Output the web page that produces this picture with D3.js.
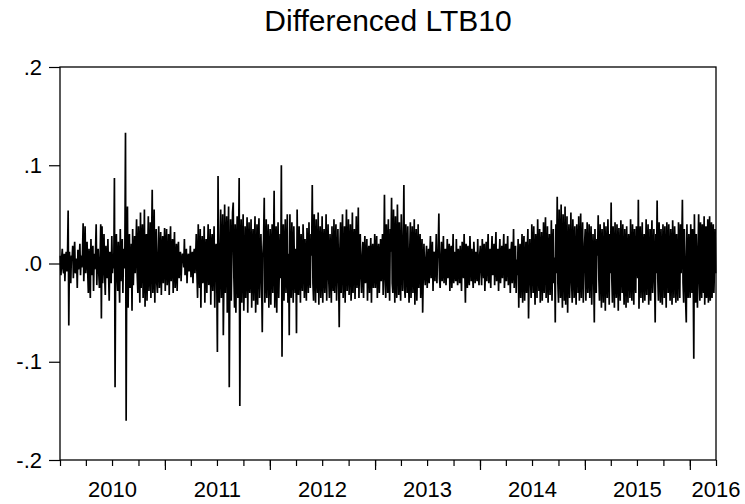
<!DOCTYPE html>
<html>
<head>
<meta charset="utf-8">
<script src="https://cdn.jsdelivr.net/npm/d3@7"></script>
<style>
  body { margin: 0; background: #fff; }
  text { font-family: "Liberation Sans", Arial, sans-serif; fill: #000; }
</style>
</head>
<body>
<div id="chart"></div>
<script>
// daily differences, in units of 0.001
var d2010 = [8,-12,5,15,-5,-10,10,-18,4,12,-8,6,
  54,-63,
  12,-5,-20,8,3,18,-15,6,22,-10,-3,5,-25,14,-6,2,20,-12,8,-4,10,
  41,-18,5,38,-10,4,
  22,-8,-30,15,-5,-35,25,-12,6,18,-28,10,-6,12,
  40,-22,8,
  15,-10,-25,6,40,-56,38,-20,5,30,-12,
  -32,18,-6,-15,25,-10,-38,12,4,-20,28,-10,8,-5,
  87,-126,10,
  30,-12,-28,22,-8,-40,35,-18,6,25,-30,15,-5,10,
  133,-160,20,
  58,-45,12,30,-25,-8,20,-48,35,-22,5,28,-10,15,
  45,-12,-30,38,5,-40,52,-25,10,40,-35,-10,55,-44,15,30,-38,8,48,-28,-5,42,-35,20,75,-30,-8,55,-40,12,35,-20,
  -30,10,38,-25,-5,32,-32,12,28,-20,6,36];
var d2011 = [-28,10,35,-22,-6,30,-32,12,38,-18,4,25,-30,8,32,-25,-5,20,-28,10,22,
  -15,5,12,-18,2,10,8,-4,25,-12,6,15,-20,3,10,-8,-2,18,-14,5,12,-20,8,15,-10,4,
  30,-10,-35,40,-5,-25,35,-45,12,28,-20,-6,38,-40,10,25,-30,5,40,-22,-8,35,-42,15,30,-28,6,38,-45,10,20,-12,
  -90,89,-20,
  -40,10,55,-35,8,50,-73,-10,60,-30,15,48,-50,12,58,-126,-5,45,-38,10,52,
  62,-15,-45,40,-50,10,48,-35,12,
  87,-145,15,
  45,-40,10,50,-48,-12,38,-35,8,47,-50,15,42,-30,-6,45,-45,12,35,-38,5,48,-50,-10,40,-42,18,46,-35,-5,30,-15,
  -70,10,25,67,-40,-8,45,-35,12,40,-45,5];
var d2012 = [35,-42,8,40,-30,10,
  74,-45,-10,38,-50,12,42,-35,-5,30,-15,
  100,-95,15,
  40,-38,5,45,-30,-8,50,-40,10,
  -73,50,-12,
  -35,42,8,-40,38,-10,-30,15,
  -71,55,-10,
  -32,38,5,-40,30,-8,-28,40,12,-35,25,-5,-38,36,10,-30,42,-12,-25,30,8,
  80,-20,
  -38,50,10,-40,45,-8,-30,52,-42,12,38,-35,-6,48,-40,15,35,-30,-10,50,-38,8,40,-15,
  -35,30,5,-40,38,-12,-28,45,-30,10,40,-38,-5,35,-10,
  -65,15,
  42,-30,8,50,-35,-10,38,-40,12,55,-28,-5,45,-32,10,40,-38,-8,52,-30,15,35,-36,6,48,-25,-10,57,-35,12,30,-15,
  -30,8,22,-35,5,28,-20,-6,25,-38,10,18,-30,2,26,-40,12,20,-25,-5,30];
var d2013 = [-25,8,28,-35,5,20,-30,-6,25,-18,10,30,-32,5,
  70,-15,
  -35,40,8,-30,45,-10,-38,35,12,
  67,-20,
  -30,55,5,-40,48,-12,-35,60,10,-32,42,-8,-38,50,12,-28,15,
  80,-25,
  -35,40,6,-30,38,-10,-40,12,
  42,-35,8,38,-30,-5,45,-42,10,35,-38,-6,40,-25,12,30,-35,5,25,-50,-8,20,-12,
  -22,5,18,-25,-3,15,-20,8,28,-15,-5,22,-28,10,12,-18,2,30,-20,6,15,
  51,-15,
  -25,5,22,-18,-3,28,-20,10,15,-22,-6,25,-15,4,20,-28,8,18,-25,-2,30,-20,12,-5,-18,25,-8,-22,15,6,
  -20,18,-4,-28,22,10,-15,30,-6,-40,20,8,-25,18,-10,-22,28,5,-18,15,-8,-25,22,6,-20,12,-5,-18,25,-10,-22,8];
var d2014 = [18,-8,-22,25,5,-15,20,-28,-4,22,-18,10,30,-20,-6,15,-25,8,28,-12,-3,20,-22,12,32,-18,-5,15,-28,
  6,25,-20,-2,18,-15,10,30,-25,-6,20,-18,8,28,-22,-4,15,-30,12,22,-20,-5,35,-25,10,18,-30,4,-12,
  25,-45,8,20,-35,-6,30,-40,12,28,-38,-5,22,-30,10,35,-56,-8,25,-15,
  -35,40,10,-30,38,-8,-42,30,12,-35,45,-5,-28,35,-40,10,32,-38,-6,42,-30,15,47,-35,-10,38,-40,8,30,-32,-5,44,-38,12,35,-20,6,
  -60,40,-10,68,-20,
  -40,55,10,-35,60,-8,-45,50,12,-38,58,-42,-5,48,-50,10,40,-35,-8,52,-15,
  -40,45,8,-35,38,-10,-42,40,12,-30,48,-38,-5,51,-35,10,42,-40,-8,20];
var d2015 = [35,-38,8,42,-30,-6,40,-35,12,38,-42,-5,30,-10,
  -60,35,-10,-30,25,8,49,-15,
  -38,40,10,-45,35,-8,-40,42,12,-48,38,-5,-35,45,8,-42,30,-10,
  62,-15,
  -40,38,8,-45,42,-10,-35,40,12,-48,36,-6,-38,44,10,-30,40,-8,-42,35,
  12,-45,38,-5,-40,30,10,-35,45,-8,-38,40,12,-42,35,-6,-30,38,10,-15,
  65,-46,10,
  38,-35,-8,42,-40,12,30,-38,-5,45,-32,10,40,-42,-6,35,-38,12,44,-30,-8,35,-12,
  -60,30,-10,64,-15,
  -38,42,8,-40,35,-10,-42,40,12,-35,38,-5,-45,42,10,-30,40,-8,-38,35,
  12,-42,44,-6,-35,38,10,-40,30,-8,-38,42,12,-35,40,-10,15,
  65,-20,
  -40,35,8,-38,-60,40,-10,-35,30,-8];
var d2016 = [-35,40,8,-30,35,-10,
  -97,50,-15,
  -40,30,-8,-45,12,
  50,-15,
  -38,42,8,-35,40,-10,-30,48,-42,12,38,-35,-5,45,-40,10,48,-38,-8,42,-35,12,40,-30,-6,35,-10];

var years = [2010, 2011, 2012, 2013, 2014, 2015, 2016];
var seriesByYear = [d2010, d2011, d2012, d2013, d2014, d2015, d2016];
var lastDate = new Date(2016, 3, 1);

var yTicks = [0.2, 0.1, 0, -0.1, -0.2];
var yTickLabels = [".2", ".1", ".0", "-.1", "-.2"];
var chartTitle = "Differenced LTB10";

var W = 745, H = 504;
var margin = { top: 67, right: 29, bottom: 44, left: 60 },
    width = W - margin.left - margin.right,
    height = H - margin.top - margin.bottom;

// one point per reading, spread evenly over its year
var points = [];
seriesByYear.forEach(function(arr, k) {
    var start = new Date(years[k], 0, 1);
    var end = k < years.length - 1 ? new Date(years[k] + 1, 0, 1) : lastDate;
    var n = arr.length;
    arr.forEach(function(v, j) {
        points.push({
            date: new Date(+start + (j + 0.5) / n * (end - start)),
            value: v / 1000
        });
    });
});

var svg = d3.select('#chart').append('svg')
    .attr('width', W)
    .attr('height', H);

var g = svg.append('g')
    .attr('transform', 'translate(' + margin.left + ',' + margin.top + ')');

var xscale = d3.scaleTime()
    .domain([new Date(2010, 0, 1), lastDate])
    .range([0, width]);

var yscale = d3.scaleLinear()
    .domain([-0.2, 0.2])
    .range([height, 0]);

// series
g.append('path')
    .datum(points)
    .attr('fill', 'none')
    .attr('stroke', '#000')
    .attr('stroke-width', 1.7)
    .attr('d', d3.line()
        .x(function(d) { return xscale(d.date); })
        .y(function(d) { return yscale(d.value); }));

// frame
g.append('rect')
    .attr('x', 0).attr('y', 0)
    .attr('width', width).attr('height', height)
    .attr('fill', 'none')
    .attr('stroke', '#000')
    .attr('stroke-width', 1.3);

// quarterly minor ticks
var quarters = d3.timeMonth.every(3).range(new Date(2010, 0, 1), d3.timeDay.offset(lastDate, 1));
g.append('g')
    .attr('transform', 'translate(0,' + height + ')')
    .call(d3.axisBottom(xscale).tickValues(quarters).tickSize(6).tickFormat(''))
    .call(function(a) { a.select('.domain').remove(); });

// year ticks
var yearStarts = years.slice(1).map(function(y) { return new Date(y, 0, 1); });
g.append('g')
    .attr('transform', 'translate(0,' + height + ')')
    .call(d3.axisBottom(xscale).tickValues(yearStarts).tickSize(10).tickFormat(''))
    .call(function(a) { a.select('.domain').remove(); });

g.selectAll('.tick line').attr('stroke', '#000').attr('stroke-width', 1.2);

// year labels in the middle of each year (2016 is only partly shown)
g.selectAll('.yearLabel')
    .data(years)
    .enter().append('text')
    .attr('class', 'yearLabel')
    .attr('x', function(d, i) {
        if (i === years.length - 1) return width;
        return (xscale(new Date(d, 0, 1)) + xscale(new Date(d + 1, 0, 1))) / 2;
    })
    .attr('y', height + 37)
    .attr('text-anchor', 'middle')
    .attr('font-size', '22px')
    .text(function(d) { return d; });

// y axis
g.append('g')
    .call(d3.axisLeft(yscale).tickValues(yTicks).tickSize(11)
        .tickPadding(7)
        .tickFormat(function(d, i) { return yTickLabels[i]; }))
    .call(function(a) {
        a.select('.domain').remove();
        a.selectAll('line').attr('stroke', '#000').attr('stroke-width', 1.2);
        a.selectAll('text')
            .attr('font-size', '22px')
            .attr('font-family', '"Liberation Sans", Arial, sans-serif')
            .attr('fill', '#000');
    });

svg.append('text')
    .attr('x', 388)
    .attr('y', 31)
    .attr('text-anchor', 'middle')
    .attr('font-size', '30px')
    .text(chartTitle);
</script>
</body>
</html>
